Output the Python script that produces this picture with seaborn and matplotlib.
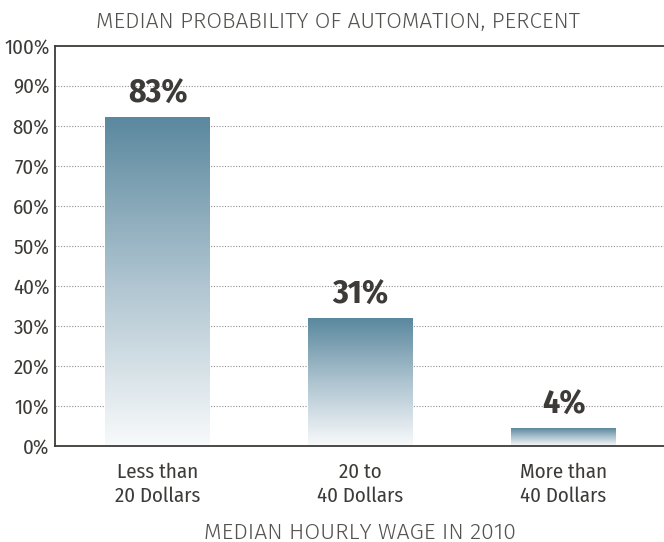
import numpy as np
import pandas as pd
import matplotlib
matplotlib.use("Agg")
import matplotlib.pyplot as plt
import seaborn as sns
from matplotlib.colors import LinearSegmentedColormap

categories = ["Less than\n20 Dollars", "20 to\n40 Dollars", "More than\n40 Dollars"]
values = [82.3, 32.0, 4.5]
value_labels = ["83%", "31%", "4%"]
yticks = [0, 10, 20, 30, 40, 50, 60, 70, 80, 90, 100]
ytick_labels = [f"{v}%" for v in yticks]
title = "MEDIAN PROBABILITY OF AUTOMATION, PERCENT"
xlabel = "MEDIAN HOURLY WAGE IN 2010"

sns.set_theme(style="white")
COND = ["Fira Sans Condensed", "PT Sans Narrow", "DejaVu Sans"]
LIGHT = ["Fira Sans", "Lato", "DejaVu Sans"]
plt.rcParams["font.family"] = COND

TEXT = "#3d3b38"
df = pd.DataFrame({"cat": categories, "val": values})

fig = plt.figure(figsize=(6.64, 5.42), dpi=100)
ax = fig.add_axes([55 / 664, 1 - 446 / 542, 609 / 664, 400 / 542])

sns.barplot(data=df, x="cat", y="val", ax=ax, width=0.517, color="#5a889e",
            zorder=2)

cmap = LinearSegmentedColormap.from_list("g", ["#f8fafb", "#aec4d0", "#5a889e"])
grad = np.linspace(0, 1, 256).reshape(-1, 1)
for p in ax.patches:
    x0, y0 = p.get_x(), p.get_y()
    w, h = p.get_width(), p.get_height()
    im = ax.imshow(grad, cmap=cmap, aspect="auto", origin="lower",
                   extent=[x0, x0 + w, y0, y0 + h], zorder=2)
    im.set_clip_path(p)
    p.set_facecolor("none")
    p.set_edgecolor("none")

for p, lab in zip(ax.patches, value_labels):
    ax.text(p.get_x() + p.get_width() / 2, p.get_height() + 1.8, lab,
            ha="center", va="bottom", fontsize=24, fontweight="bold",
            color=TEXT, zorder=4)

ax.set_xlim(-0.505, 2.495)
ax.set_ylim(0, 100)
ax.set_yticks(yticks)
ax.set_yticklabels(ytick_labels, fontsize=15, color=TEXT)
ax.tick_params(axis="x", labelsize=15, labelcolor=TEXT, length=0, pad=12)
ax.tick_params(axis="y", length=0, pad=4)
for t in ax.get_xticklabels():
    t.set_linespacing(1.3)

for v in yticks[1:-1]:
    ax.axhline(v, color="#909090", lw=0.8, ls=(0, (1, 1.5)), zorder=1)

for s in ["left", "bottom", "top"]:
    ax.spines[s].set_color("#3d3b38")
    ax.spines[s].set_linewidth(1.3)
ax.spines["right"].set_visible(False)

ax.set_ylabel("")
ax.set_xlabel(xlabel, fontsize=16.5, color="#555350", family=LIGHT,
              fontweight=300, labelpad=11)
fig.text(338 / 664, 1 - 22 / 542, title, ha="center", va="center",
         fontsize=16.3, color="#555350", family=LIGHT, fontweight=300)

fig.savefig("out.png", dpi=100)
